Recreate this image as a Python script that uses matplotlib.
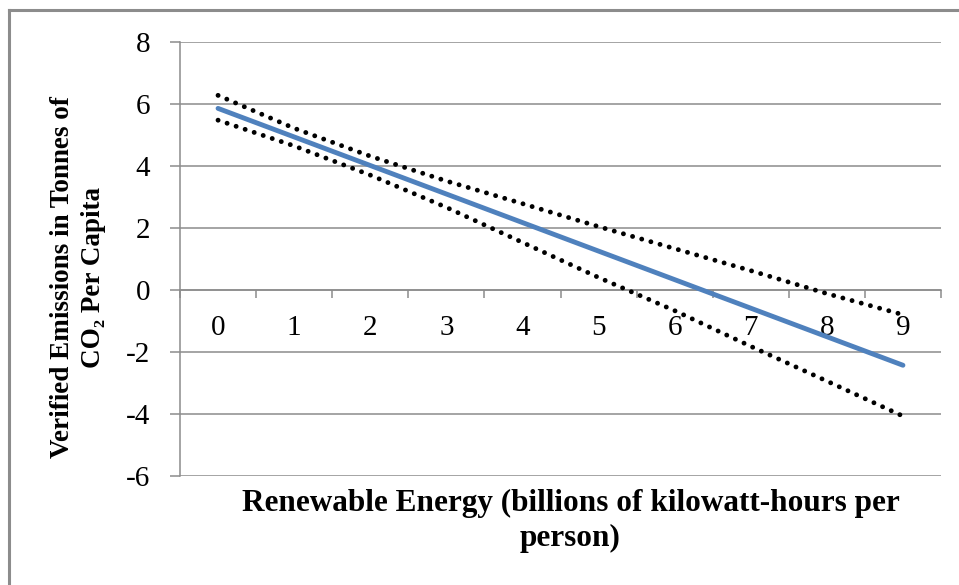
import matplotlib.pyplot as plt
from matplotlib.lines import Line2D

# values at each category 0..9
categories = list(range(10))
fit = [5.85, 4.93, 4.01, 3.09, 2.17, 1.25, 0.33, -0.59, -1.51, -2.43]
upper = [6.27, 5.21, 4.31, 3.51, 2.78, 2.04, 1.33, 0.62, -0.12, -0.80]
lower = [5.47, 4.64, 3.70, 2.66, 1.53, 0.40, -0.67, -1.82, -2.94, -4.07]
yticks = [-6, -4, -2, 0, 2, 4, 6, 8]

plt.rcParams['font.family'] = ['Liberation Serif', 'DejaVu Serif']
grey = '#8c8c8c'

fig = plt.figure(figsize=(9.59, 5.85), dpi=100)
ax = fig.add_axes([180 / 959, 1 - 476 / 585, (941 - 180) / 959, (476 - 41.7) / 585])

dots = (0, (0.01, 1.95))
ax.plot(categories, upper, color='black', lw=3.5, linestyle=dots,
        dash_capstyle='round', zorder=3)
ax.plot(categories, lower, color='black', lw=3.5, linestyle=dots,
        dash_capstyle='round', zorder=3)
ax.plot(categories, fit, color='#4f81bd', lw=3.5, solid_capstyle='round', zorder=4)

ax.set_xlim(-0.5, 9.5)
ax.set_ylim(-6, 8)
ax.set_yticks(yticks)
ax.set_yticklabels([str(v) for v in yticks])
ax.set_xticks(categories)
ax.set_xticklabels([str(c) for c in categories])
ax.set_xticks([c - 0.5 for c in categories] + [9.5], minor=True)

ax.spines['top'].set_visible(False)
ax.spines['right'].set_visible(False)
ax.spines['bottom'].set_position(('data', 0))
for s in ('left', 'bottom'):
    ax.spines[s].set_color(grey)
    ax.spines[s].set_linewidth(1.1)

ax.yaxis.grid(True, color=grey, lw=1.1)
ax.set_axisbelow(True)
ax.tick_params(axis='y', direction='out', length=7.5, width=1.1, color=grey,
               pad=14, labelsize=21)
ax.tick_params(axis='x', which='major', length=0, pad=18, labelsize=21)
ax.tick_params(axis='x', which='minor', direction='out', length=6, width=1.1, color=grey)

fig.text(0.5 * (200 + 941) / 959 + 0.0, 1 - 521 / 585,
         'Renewable Energy (billions of kilowatt-hours per\nperson)',
         ha='center', va='center', fontsize=22.5, fontweight='bold',
         linespacing=1.25)
fig.text(78 / 959, 1 - 277 / 585,
         'Verified Emissions in Tonnes of\nCO\u2082 Per Capita',
         ha='center', va='center', rotation=90, fontsize=19.5,
         fontweight='bold', linespacing=1.35)

# outer chart frame
fig.add_artist(Line2D([9 / 959, 9 / 959], [0, 1 - 10 / 585], color=grey, lw=2.2,
                      transform=fig.transFigure))
fig.add_artist(Line2D([9 / 959, 1], [1 - 10 / 585, 1 - 10 / 585], color=grey, lw=2.2,
                      transform=fig.transFigure))

fig.savefig('out.png', dpi=100)
